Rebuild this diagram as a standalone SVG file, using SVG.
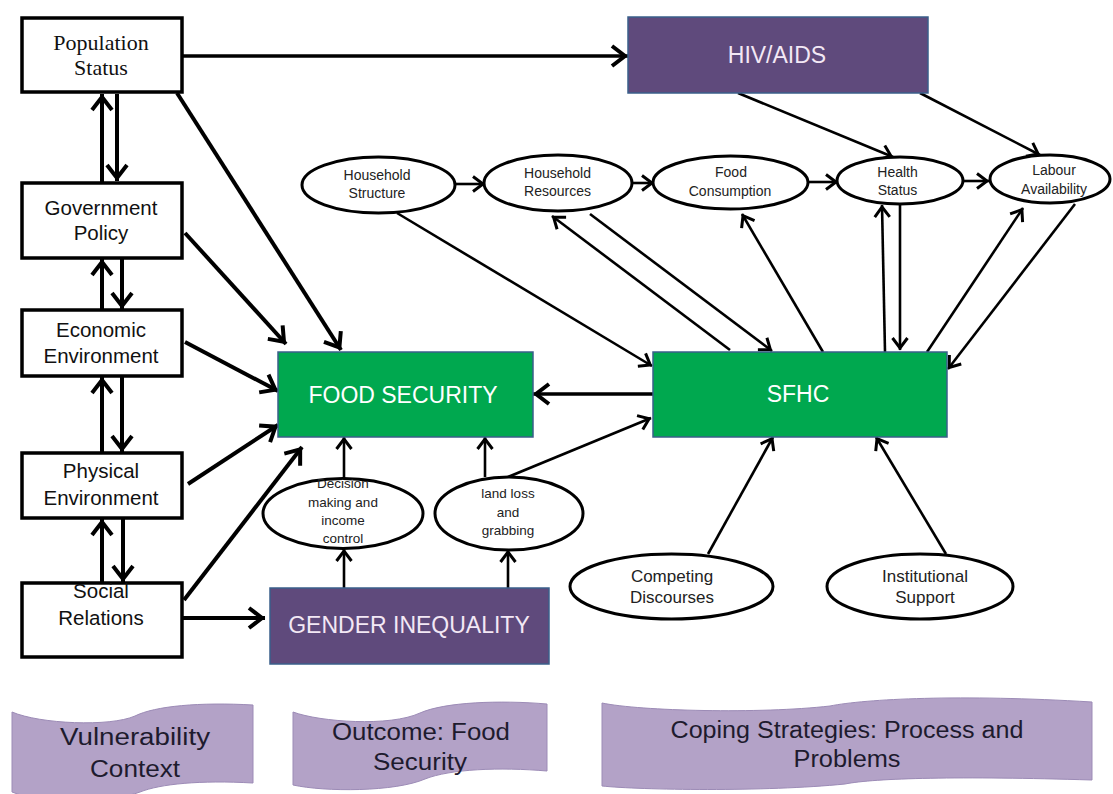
<svg xmlns="http://www.w3.org/2000/svg" width="1113" height="794" viewBox="0 0 1113 794">
<style>
.box{fill:#fff;stroke:#000;stroke-width:3.5}
.ell{fill:#fff;stroke:#000;stroke-width:3}
.grn{fill:#00A84F;stroke:#3A5F8A;stroke-width:1.5}
.pur{fill:#5F4A7C;stroke:#3A5F8A;stroke-width:1.5}
.ban{fill:#B3A2C7;stroke:#9C8BB6;stroke-width:1}
.serif{font-family:"Liberation Serif","Times New Roman",serif;font-size:22px;fill:#111;text-anchor:middle}
.lt{font-family:"Liberation Sans",Arial,sans-serif;font-size:20.5px;fill:#111;text-anchor:middle}
.wt{font-family:"Liberation Sans",Arial,sans-serif;font-size:23px;fill:#fff;text-anchor:middle}
.gt{font-family:"Liberation Sans",Arial,sans-serif;font-size:23px;fill:#F3E8F5;text-anchor:middle}
.et{font-family:"Liberation Sans",Arial,sans-serif;font-size:14px;fill:#222;text-anchor:middle}
.em{font-family:"Liberation Sans",Arial,sans-serif;font-size:13.5px;fill:#222;text-anchor:middle}
.eb{font-family:"Liberation Sans",Arial,sans-serif;font-size:17px;fill:#222;text-anchor:middle}
.bt{font-family:"Liberation Sans",Arial,sans-serif;font-size:23px;fill:#1E1B2E;text-anchor:middle}
.thick{fill:none;stroke:#000;stroke-width:4;marker-end:url(#ah)}
.med{fill:none;stroke:#000;stroke-width:3.3;marker-end:url(#ah)}
.thin{fill:none;stroke:#000;stroke-width:2.6;marker-end:url(#at)}
</style>
<defs>
<marker id="ah" viewBox="-20 -12 24 24" refX="0" refY="0" markerWidth="24" markerHeight="24" markerUnits="userSpaceOnUse" orient="auto" overflow="visible">
<path d="M-16,-10 L-3,0 L-16,10" fill="none" stroke="#000" stroke-width="4"/>
</marker>
<marker id="at" viewBox="-16 -10 20 20" refX="0" refY="0" markerWidth="20" markerHeight="20" markerUnits="userSpaceOnUse" orient="auto" overflow="visible">
<path d="M-12,-7.5 L-2,0 L-12,7.5" fill="none" stroke="#000" stroke-width="3"/>
</marker>
</defs>
<rect width="1113" height="794" fill="#fff"/>

<g id="connectors">
<!-- left column vertical pairs -->
<line class="thick" x1="117" y1="94" x2="117" y2="181"/>
<line class="thick" x1="102" y1="183" x2="102" y2="94"/>
<line class="thick" x1="122" y1="259" x2="122" y2="309"/>
<line class="thick" x1="102" y1="310" x2="102" y2="259"/>
<line class="thick" x1="122" y1="377" x2="122" y2="452"/>
<line class="thick" x1="102" y1="453" x2="102" y2="377"/>
<line class="thick" x1="123" y1="519" x2="123" y2="582"/>
<line class="thick" x1="102" y1="583" x2="102" y2="519"/>
<!-- to food security -->
<line class="thick" x1="177" y1="93" x2="341" y2="350"/>
<line class="thick" x1="185" y1="233" x2="286" y2="344"/>
<line class="thick" x1="185" y1="342" x2="278" y2="391"/>
<line class="thick" x1="188" y1="484" x2="278" y2="425"/>
<line class="thick" x1="184" y1="600" x2="302" y2="447"/>
<line class="thick" x1="183" y1="618" x2="265" y2="618"/>
<line class="med" x1="182" y1="56" x2="628" y2="56"/>
<line class="med" x1="653" y1="394" x2="533" y2="394"/>
<!-- HIV to ellipses -->
<line class="thin" x1="738" y1="93" x2="893" y2="157"/>
<line class="thin" x1="920" y1="93" x2="1040" y2="155"/>
<!-- top chain -->
<line class="thin" x1="456" y1="184" x2="485" y2="184"/>
<line class="thin" x1="632" y1="183" x2="654" y2="183"/>
<line class="thin" x1="808" y1="182" x2="838" y2="182"/>
<line class="thin" x1="963" y1="181" x2="989" y2="181"/>
<!-- ellipses and SFHC -->
<line class="thin" x1="397" y1="213" x2="652" y2="366"/>
<line class="thin" x1="730" y1="350" x2="552" y2="216"/>
<line class="thin" x1="590" y1="214" x2="772" y2="351"/>
<line class="thin" x1="823" y1="352" x2="742" y2="214"/>
<line class="thin" x1="885" y1="352" x2="882" y2="205"/>
<line class="thin" x1="900" y1="205" x2="900" y2="350"/>
<line class="thin" x1="927" y1="352" x2="1023" y2="208"/>
<line class="thin" x1="1075" y1="204" x2="948" y2="369"/>
<!-- gender / decision / land -->
<line class="thin" x1="344" y1="478" x2="344" y2="437"/>
<line class="thin" x1="344" y1="588" x2="344" y2="549"/>
<line class="thin" x1="485" y1="477" x2="485" y2="437"/>
<line class="thin" x1="508" y1="588" x2="508" y2="550"/>
<line class="thin" x1="508" y1="477" x2="651" y2="418"/>
<!-- bottom ellipses -->
<line class="thin" x1="708" y1="554" x2="773" y2="437"/>
<line class="thin" x1="946" y1="554" x2="876" y2="437"/>
</g>

<g id="population-status"><rect class="box" x="22" y="18" width="160" height="74"/>
<text class="serif" x="101" y="50">Population</text><text class="serif" x="101" y="75">Status</text></g>
<g id="government-policy"><rect class="box" x="22" y="183" width="160" height="75"/>
<text class="lt" x="101" y="215">Government</text><text class="lt" x="101" y="240">Policy</text></g>
<g id="economic-environment"><rect class="box" x="22" y="310" width="160" height="66"/>
<text class="lt" x="101" y="337">Economic</text><text class="lt" x="101" y="363">Environment</text></g>
<g id="physical-environment"><rect class="box" x="22" y="453" width="160" height="65"/>
<text class="lt" x="101" y="478">Physical</text><text class="lt" x="101" y="505">Environment</text></g>
<g id="social-relations"><rect class="box" x="22" y="583" width="160" height="74"/>
<text class="lt" x="101" y="598">Social</text><text class="lt" x="101" y="625">Relations</text></g>

<g id="hiv-aids"><rect class="pur" x="628" y="17" width="300" height="76"/>
<text class="gt" x="777" y="63">HIV/AIDS</text></g>
<g id="food-security"><rect class="grn" x="278" y="352" width="255" height="85"/>
<text class="wt" x="403" y="403">FOOD SECURITY</text></g>
<g id="sfhc"><rect class="grn" x="653" y="352" width="294" height="85"/>
<text class="wt" x="798" y="402">SFHC</text></g>
<g id="gender-inequality"><rect class="pur" x="270" y="588" width="279" height="76"/>
<text class="gt" x="409" y="633">GENDER INEQUALITY</text></g>

<g id="household-structure"><ellipse class="ell" cx="378.5" cy="185" rx="76.5" ry="28"/>
<text class="et" x="377" y="180">Household</text><text class="et" x="377" y="198">Structure</text></g>
<g id="household-resources"><ellipse class="ell" cx="558" cy="183" rx="74" ry="28"/>
<text class="et" x="557.5" y="178">Household</text><text class="et" x="557.5" y="196">Resources</text></g>
<g id="food-consumption"><ellipse class="ell" cx="730.5" cy="182.5" rx="77.5" ry="26.5"/>
<text class="et" x="731" y="177">Food</text><text class="et" x="730" y="196">Consumption</text></g>
<g id="health-status"><ellipse class="ell" cx="900" cy="180.5" rx="63" ry="23.5"/>
<text class="et" x="897.5" y="177">Health</text><text class="et" x="897.5" y="195">Status</text></g>
<g id="labour-availability"><ellipse class="ell" cx="1050" cy="179" rx="60" ry="24"/>
<text class="et" x="1054" y="175">Labour</text><text class="et" x="1054" y="194">Availability</text></g>

<g id="decision-making"><ellipse class="ell" cx="343" cy="513.5" rx="80" ry="35"/>
<text class="em" x="343" y="488">Decision</text><text class="em" x="343" y="507">making and</text>
<text class="em" x="343" y="525">income</text><text class="em" x="343" y="543">control</text></g>
<g id="land-loss"><ellipse class="ell" cx="509" cy="513.5" rx="74" ry="36.5"/>
<text class="em" x="508" y="498">land loss</text><text class="em" x="508" y="517">and</text><text class="em" x="508" y="535">grabbing</text></g>
<g id="competing-discourses"><ellipse class="ell" cx="671.5" cy="586.5" rx="101.5" ry="32.5"/>
<text class="eb" x="672" y="582">Competing</text><text class="eb" x="672" y="603">Discourses</text></g>
<g id="institutional-support"><ellipse class="ell" cx="920" cy="586.5" rx="93" ry="32.5"/>
<text class="eb" x="925" y="582">Institutional</text><text class="eb" x="925" y="603">Support</text></g>

<g id="banner-vulnerability">
<path class="ban" d="M12,712 C40,724 110,727 135,716 C155,706 200,702 253,705 L253,783 C200,780 160,784 140,792 C115,802 40,804 12,792 Z"/>
<text class="bt" x="135" y="745" textLength="150" lengthAdjust="spacingAndGlyphs">Vulnerability</text>
<text class="bt" x="135" y="777" textLength="90" lengthAdjust="spacingAndGlyphs">Context</text></g>
<g id="banner-outcome">
<path class="ban" d="M293,712 C320,722 390,727 420,713 C445,702 500,700 547,704 L547,771 C500,767 450,769 425,779 C395,792 325,792 293,785 Z"/>
<text class="bt" x="421" y="740" textLength="178" lengthAdjust="spacingAndGlyphs">Outcome: Food</text>
<text class="bt" x="420" y="770" textLength="94" lengthAdjust="spacingAndGlyphs">Security</text></g>
<g id="banner-coping">
<path class="ban" d="M602,703 C640,711 760,714 830,706 C865,699 960,694 1092,702 L1092,780 C960,776 875,778 845,784 C765,792 640,790 602,786 Z"/>
<text class="bt" x="847" y="738" textLength="353" lengthAdjust="spacingAndGlyphs">Coping Strategies: Process and</text>
<text class="bt" x="847" y="767" textLength="107" lengthAdjust="spacingAndGlyphs">Problems</text></g>
</svg>
